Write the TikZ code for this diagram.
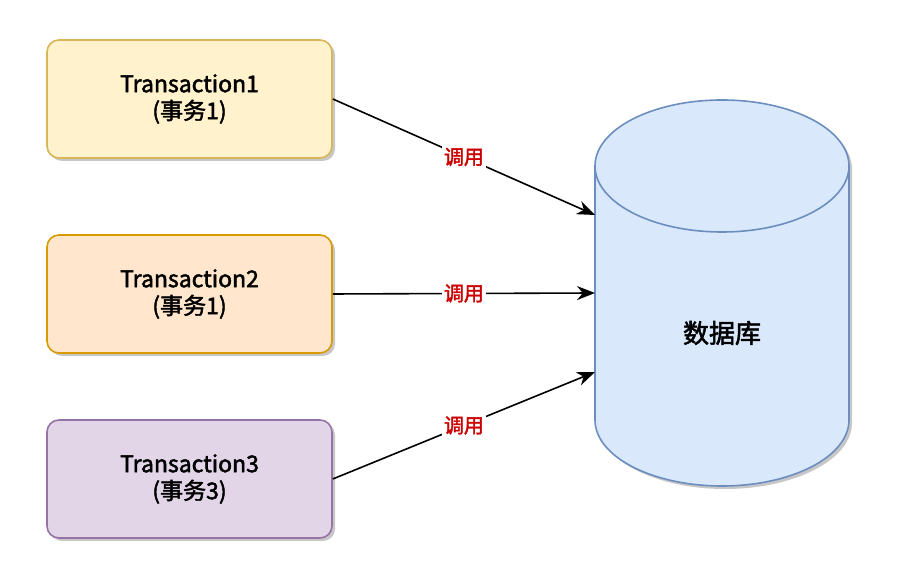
\documentclass[tikz,border=0pt]{standalone}
\usepackage{fontspec}
\setmainfont{Noto Sans CJK SC}[AutoFakeBold=2]
\usetikzlibrary{arrows.meta, shadows}
\definecolor{txyellow}{HTML}{FFF2CC}
\definecolor{txyellowline}{HTML}{D6B656}
\definecolor{txorange}{HTML}{FFE6CC}
\definecolor{txorangeline}{HTML}{D79B00}
\definecolor{txpurple}{HTML}{E1D5E7}
\definecolor{txpurpleline}{HTML}{9673A6}
\definecolor{dbfill}{HTML}{DAE8FC}
\definecolor{dbline}{HTML}{6C8EBF}
\definecolor{callred}{HTML}{CC0000}

\begin{document}
\begin{tikzpicture}[x=0.5pt, y=0.5pt,
    txbox/.style={draw, line width=0.8pt, rounded corners=6pt,
        minimum width=142.5pt, minimum height=59pt, align=center,
        font=\fontsize{11.5}{13.5}\selectfont\bfseries,
        drop shadow={shadow xshift=1.5pt, shadow yshift=-1.5pt, fill=black!22, opacity=1}},
    call/.style={-{Stealth[length=9pt, width=7pt]}, line width=0.8pt},
    calllabel/.style={fill=white, text=callred, inner sep=1pt,
        font=\fontsize{10}{12}\selectfont\bfseries}]
    \useasboundingbox (0,0) rectangle (899,566);

    % --- 1. 繪製圓柱 (資料庫) ---
    \fill[black!22] (598,397) -- (598,143) arc[start angle=180, end angle=360, x radius=127, y radius=66]
        -- (852,397) arc[start angle=0, end angle=180, x radius=127, y radius=66] -- cycle;
    \draw[dbline, fill=dbfill, line width=0.8pt] (595,400) -- (595,146)
        arc[start angle=180, end angle=360, x radius=127, y radius=66]
        -- (849,400) arc[start angle=0, end angle=180, x radius=127, y radius=66] -- cycle;
    \draw[dbline, line width=0.8pt] (595,400) arc[start angle=180, end angle=360, x radius=127, y radius=66];
    \node[font=\fontsize{13}{15}\selectfont\bfseries] (db) at (722,233) {数据库};

    % --- 2. 定義圓柱左側的入口 ---
    \coordinate (in1) at (595,351);
    \coordinate (in2) at (595,273);
    \coordinate (in3) at (595,194);

    % --- 3. 繪製三個事務框 ---
    \node[txbox, fill=txyellow, draw=txyellowline] (t1) at (189.5,467) {Transaction1\\(事务1)};
    \node[txbox, fill=txorange, draw=txorangeline] (t2) at (189.5,272) {Transaction2\\(事务1)};
    \node[txbox, fill=txpurple, draw=txpurpleline] (t3) at (189.5,87) {Transaction3\\(事务3)};

    % --- 4. 繪製調用箭頭 ---
    \draw[call] (t1.east) -- node[calllabel] {调用} (in1);
    \draw[call] (t2.east) -- node[calllabel] {调用} (in2);
    \draw[call] (t3.east) -- node[calllabel] {调用} (in3);
\end{tikzpicture}
\end{document}
